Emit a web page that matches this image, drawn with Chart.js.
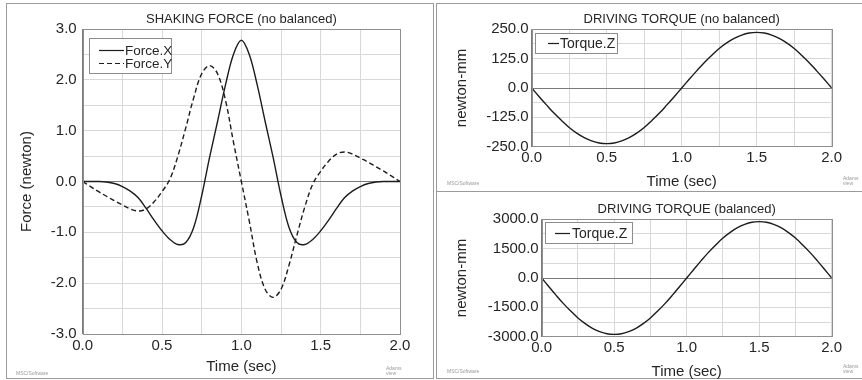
<!DOCTYPE html>
<html>
<head>
<meta charset="utf-8">
<script src="https://cdn.jsdelivr.net/npm/chart.js@4.4.1/dist/chart.umd.min.js"></script>
<style>
  body { margin: 0; background: #fff; width: 862px; height: 380px; position: relative; overflow: hidden; font-family: "Liberation Sans", Arial, sans-serif; }
  .panel { position: absolute; border: 1px solid #9a9a9a; box-sizing: border-box; }
  .cv { position: absolute; }
  .logo { position: absolute; font-size: 5px; line-height: 5px; color: #9a9a9a; white-space: nowrap; }
</style>
</head>
<body>
<div class="panel" style="left:6px;top:3px;width:428px;height:376px"></div>
<div class="panel" style="left:436px;top:3px;width:430px;height:189px"></div>
<div class="panel" style="left:436px;top:191px;width:430px;height:188px"></div>

<canvas id="force" class="cv" style="left:7px;top:4px" width="426" height="373"></canvas>
<canvas id="torqueFree" class="cv" style="left:437px;top:4px" width="425" height="190"></canvas>
<canvas id="torqueBal" class="cv" style="left:437px;top:192px" width="425" height="190"></canvas>

<span class="logo" style="left:16px;top:371px">MSC/Software</span>
<span class="logo" style="left:386px;top:366px">Adams<br>view</span>
<span class="logo" style="left:447px;top:181px">MSC/Software</span>
<span class="logo" style="left:843px;top:176px">Adams<br>view</span>
<span class="logo" style="left:447px;top:369px">MSC/Software</span>
<span class="logo" style="left:843px;top:364px">Adams<br>view</span>

<script>
// Sample times (sec)
const timeSec = [0, 0.05, 0.1, 0.15, 0.2, 0.25, 0.3, 0.35, 0.4, 0.45, 0.5, 0.55, 0.6, 0.65, 0.7, 0.75, 0.8, 0.85, 0.9, 0.95, 1.0,
    1.05, 1.1, 1.15, 1.2, 1.25, 1.3, 1.35, 1.4, 1.45, 1.5, 1.55, 1.6, 1.65, 1.7, 1.75, 1.8, 1.85, 1.9, 1.95, 2.0];

// Shaking force, newton
const forceX = [0, 0, 0, -0.01, -0.04, -0.1, -0.19, -0.32, -0.53, -0.76, -0.97, -1.14, -1.24, -1.2, -0.9, -0.28, 0.48, 1.18, 1.9, 2.5, 2.78,
    2.5, 1.9, 1.18, 0.48, -0.28, -0.9, -1.2, -1.24, -1.14, -0.97, -0.76, -0.53, -0.32, -0.19, -0.1, -0.04, -0.01, 0, 0, 0];
const forceY = [0, -0.1, -0.2, -0.29, -0.38, -0.46, -0.54, -0.58, -0.54, -0.4, -0.2, 0.05, 0.5, 1.06, 1.65, 2.12, 2.28, 2.12, 1.6, 0.78, 0,
    -0.78, -1.6, -2.12, -2.28, -2.12, -1.65, -1.06, -0.5, -0.05, 0.2, 0.4, 0.54, 0.58, 0.54, 0.46, 0.38, 0.29, 0.2, 0.1, 0];

// Driving torque, newton-mm
const torqueFree = [0, -37, -73, -108, -139, -168, -192, -211, -225, -234, -237, -234, -225, -211, -192, -168, -139, -108, -73, -37, 0,
    37, 73, 108, 139, 168, 192, 211, 225, 234, 237, 234, 225, 211, 192, 168, 139, 108, 73, 37, 0];
const torqueBal = [0, -450, -890, -1310, -1690, -2040, -2330, -2570, -2740, -2850, -2880, -2850, -2740, -2570, -2330, -2040, -1690, -1310, -890, -450, 0,
    450, 890, 1310, 1690, 2040, 2330, 2570, 2740, 2850, 2880, 2850, 2740, 2570, 2330, 2040, 1690, 1310, 890, 450, 0];

const FONT = '"Liberation Sans", Arial, sans-serif';
const TEXT = '#262626';

function toPoints(values) {
    return timeSec.map((t, i) => ({ x: t, y: values[i] }));
}

// plot frame around the chart area
const frame = {
    id: 'frame',
    afterDraw(chart) {
        const { ctx, chartArea: a } = chart;
        ctx.save();
        ctx.strokeStyle = '#8f8f8f';
        ctx.lineWidth = 1;
        ctx.strokeRect(Math.round(a.left) + 0.5, Math.round(a.top) + 0.5,
            Math.round(a.right - a.left), Math.round(a.bottom - a.top));
        ctx.restore();
    }
};

// legend box inside the plot, top-left
const boxLegend = {
    id: 'boxLegend',
    afterDraw(chart, args, o) {
        const { ctx, chartArea } = chart;
        const x = Math.round(chartArea.left + o.dx);
        const y = Math.round(chartArea.top + o.dy);
        ctx.save();
        ctx.fillStyle = '#fff';
        ctx.fillRect(x, y, o.w, o.h);
        ctx.strokeStyle = '#8c8c8c';
        ctx.lineWidth = 1;
        ctx.strokeRect(x + 0.5, y + 0.5, o.w, o.h);
        ctx.font = o.size + 'px ' + FONT;
        ctx.textBaseline = 'middle';
        chart.data.datasets.forEach((ds, i) => {
            const cy = Math.round(y + o.row0 + i * o.rowH) + 0.5;
            ctx.strokeStyle = ds.borderColor;
            ctx.lineWidth = 1.2;
            ctx.setLineDash(ds.borderDash || []);
            ctx.beginPath();
            ctx.moveTo(x + o.l0, cy);
            ctx.lineTo(x + o.l1, cy);
            ctx.stroke();
            ctx.setLineDash([]);
            ctx.fillStyle = TEXT;
            ctx.fillText(ds.label, x + o.tx, cy + 0.5);
        });
        ctx.restore();
    }
};

function gridColor(ctx) {
    return ctx.tick && ctx.tick.value === 0 ? '#7a7a7a' : '#d8d8d8';
}

function makeChart(id, cfg) {
    const datasets = cfg.series.map(s => ({
        label: s.label,
        data: toPoints(s.values),
        borderColor: '#1c1c1c',
        borderWidth: 1.4,
        borderDash: s.dash || [],
        pointRadius: 0,
        fill: false,
        tension: 0.35
    }));

    return new Chart(document.getElementById(id), {
        type: 'line',
        data: { datasets },
        plugins: [frame, boxLegend],
        options: {
            responsive: false,
            animation: false,
            layout: { padding: { left: 0, top: 0, right: cfg.padRight, bottom: 0 } },
            plugins: {
                legend: { display: false },
                tooltip: { enabled: false },
                title: {
                    display: true,
                    text: cfg.title,
                    fullSize: false,
                    color: TEXT,
                    font: { family: FONT, size: 13, weight: 'normal', lineHeight: 1.2 },
                    padding: { top: cfg.titleTop, bottom: cfg.titleBottom }
                },
                boxLegend: cfg.legend
            },
            scales: {
                x: {
                    type: 'linear',
                    min: 0,
                    max: 2,
                    afterFit(scale) { scale.height = cfg.xHeight; },
                    border: { display: false },
                    grid: { color: gridColor, drawTicks: false, lineWidth: 1 },
                    ticks: {
                        stepSize: 0.25,
                        autoSkip: false,
                        maxRotation: 0,
                        padding: cfg.xTickPad,
                        color: TEXT,
                        font: { family: FONT, size: 15 },
                        callback: v => (Math.abs(v * 2 - Math.round(v * 2)) < 1e-9 ? v.toFixed(1) : '')
                    },
                    title: {
                        display: true,
                        text: 'Time (sec)',
                        color: TEXT,
                        font: { family: FONT, size: 15, lineHeight: 1.2 },
                        padding: { top: 0, bottom: cfg.xTitlePad }
                    }
                },
                y: {
                    min: cfg.yMin,
                    max: cfg.yMax,
                    afterFit(scale) { scale.width = cfg.yWidth; },
                    border: { display: false },
                    grid: { color: gridColor, drawTicks: false, lineWidth: 1 },
                    ticks: {
                        stepSize: cfg.yStep,
                        autoSkip: false,
                        padding: cfg.yTickPad,
                        color: TEXT,
                        font: { family: FONT, size: 15 },
                        callback: v => (Math.abs(v / cfg.yLabelStep - Math.round(v / cfg.yLabelStep)) < 1e-9 ? v.toFixed(1) : '')
                    },
                    title: {
                        display: true,
                        text: cfg.yTitle,
                        color: TEXT,
                        font: { family: FONT, size: 15, lineHeight: 1.2 },
                        padding: { top: cfg.yTitlePad, bottom: 0 }
                    }
                }
            }
        }
    });
}

makeChart('force', {
    title: 'SHAKING FORCE (no balanced)',
    yTitle: 'Force (newton)',
    series: [
        { label: 'Force.X', values: forceX },
        { label: 'Force.Y', values: forceY, dash: [5, 3] }
    ],
    yMin: -3, yMax: 3, yStep: 0.5, yLabelStep: 1,
    padRight: 33, titleTop: 7.2, titleBottom: 2.2,
    yWidth: 75.7, xHeight: 43, xTickPad: 3, xTitlePad: 1, yTickPad: 6, yTitlePad: 11,
    legend: { dx: 6, dy: 9, w: 82, h: 35, l0: 10, l1: 35, tx: 36, row0: 11.5, rowH: 13, size: 13.5 }
});

makeChart('torqueFree', {
    title: 'DRIVING TORQUE (no balanced)',
    yTitle: 'newton-mm',
    series: [{ label: 'Torque.Z', values: torqueFree }],
    yMin: -250, yMax: 250, yStep: 62.5, yLabelStep: 125,
    padRight: 30.3, titleTop: 7.2, titleBottom: 2.5,
    yWidth: 94.7, xHeight: 47.3, xTickPad: 2, xTitlePad: 3.5, yTickPad: 3, yTitlePad: 15.7,
    legend: { dx: 3.5, dy: 4, w: 82, h: 20, l0: 13, l1: 24, tx: 25, row0: 10, rowH: 12, size: 14 }
});

makeChart('torqueBal', {
    title: 'DRIVING TORQUE (balanced)',
    yTitle: 'newton-mm',
    series: [{ label: 'Torque.Z', values: torqueBal }],
    yMin: -3000, yMax: 3000, yStep: 750, yLabelStep: 1500,
    padRight: 30.3, titleTop: 9.2, titleBottom: 2.5,
    yWidth: 104.7, xHeight: 45.3, xTickPad: 2, xTitlePad: 1.3, yTickPad: 3, yTitlePad: 15.7,
    legend: { dx: 3.5, dy: 2.5, w: 87, h: 21, l0: 10, l1: 25, tx: 27, row0: 10.5, rowH: 12, size: 14 }
});
</script>
</body>
</html>
